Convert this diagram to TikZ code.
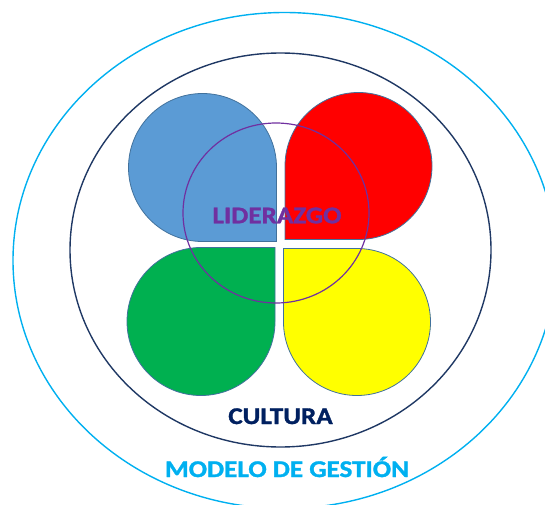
\documentclass[tikz,border=0pt]{standalone}
\usepackage{fontspec}
\setmainfont{Carlito}
\newfontfamily\lblfont{Carlito}[FakeStretch=1.13, BoldFeatures={FakeBold=1.3}]
\definecolor{outercyan}{HTML}{00B0F0}
\definecolor{navyline}{HTML}{1F3864}
\definecolor{navytext}{HTML}{002060}
\definecolor{purpleline}{HTML}{7030A0}
\definecolor{petaledge}{HTML}{41719C}
\definecolor{petalblue}{HTML}{5B9BD5}
\definecolor{petalred}{HTML}{FF0000}
\definecolor{petalgreen}{HTML}{00B050}
\definecolor{petalyellow}{HTML}{FFFF00}
\tikzset{
  petal/.style={draw=petaledge, line width=0.8pt},
  lbl/.style={anchor=base, inner sep=0pt, font=\lblfont\bfseries\fontsize{24}{28}\selectfont},
}
\begin{document}
\begin{tikzpicture}[x=1pt,y=1pt]
\useasboundingbox (0,0) rectangle (545,504);
% outer ellipse (modelo de gestion)
\draw[outercyan, line width=1.4pt] (284.5,243.5) ellipse [x radius=271.5, y radius=248];
% inner ellipse (cultura)
\draw[navyline, line width=1.4pt] (280.5,254) ellipse [x radius=210.5, y radius=197];
% petals
\fill[petalblue] (276.5,336.5) arc[start angle=0, end angle=270, radius=74] -- (276.5,262.5) -- cycle;
\draw[petal] (276.5,336.5) arc[start angle=0, end angle=270, radius=74] -- (276.5,262.5) -- cycle;
\fill[petalred] (358.5,264.5) arc[start angle=-90, end angle=180, radius=73.5] -- (285,264.5) -- cycle;
\draw[petal] (358.5,264.5) arc[start angle=-90, end angle=180, radius=73.5] -- (285,264.5) -- cycle;
\fill[petalgreen] (201,256.5) arc[start angle=90, end angle=360, radius=74] -- (275,256.5) -- cycle;
\draw[petal] (201,256.5) arc[start angle=90, end angle=360, radius=74] -- (275,256.5) -- cycle;
\fill[petalyellow] (283.5,182) arc[start angle=180, end angle=450, radius=73.5] -- (283.5,255.5) -- cycle;
\draw[petal] (283.5,182) arc[start angle=180, end angle=450, radius=73.5] -- (283.5,255.5) -- cycle;
% liderazgo circle
\draw[purpleline, line width=1.2pt] (276,291) ellipse [x radius=93, y radius=90];
% labels
\node[lbl, text=purpleline] (liderazgo) at (277,280.7) {LIDERAZGO};
\node[lbl, text=navytext] (cultura) at (280.5,80) {CULTURA};
\node[lbl, text=outercyan] (modelo) at (287,27) {MODELO DE GESTIÓN};
\end{tikzpicture}
\end{document}
